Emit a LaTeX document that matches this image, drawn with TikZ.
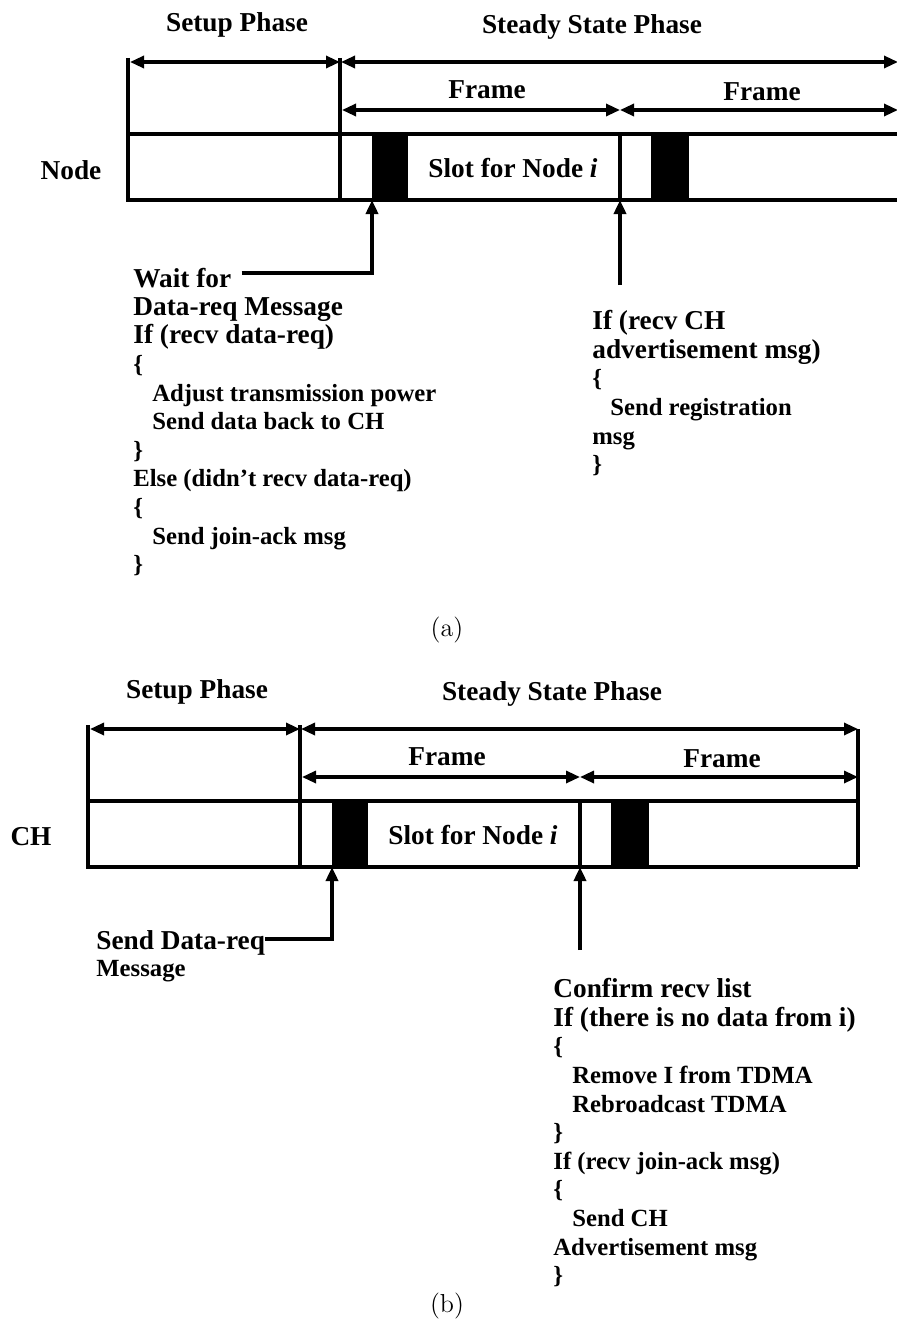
\documentclass[tikz,border=0pt]{standalone}
\usepackage{fontspec}
\newfontfamily\timesb{Liberation Serif}
\usetikzlibrary{arrows.meta}

\newcommand\txtL{\fontsize{13.65}{14.3}\selectfont}
\tikzset{
  lbl/.style={font=\timesb\bfseries\fontsize{13.65}{16}\selectfont},
  code/.style={align=left, inner sep=0pt, font=\timesb\bfseries\fontsize{12.35}{14.3}\selectfont},
  box/.style={line width=2.2pt},
  span/.style={{Triangle[length=7pt,width=6pt]}-{Triangle[length=7pt,width=6pt]}, line width=1.6pt},
  conn/.style={-{Triangle[length=7pt,width=6pt]}, line width=2pt},
}

\begin{document}
\begin{tikzpicture}[x=0.5pt,y=-0.5pt]
\useasboundingbox (0,0) rectangle (896,1343);
% the two time lines, (b) is (a) moved left and down
\foreach \p/\lab/\dx/\dy in {a/Node/0/0, b/CH/-40/667}{
\begin{scope}[shift={(\dx,\dy)}]
  \draw[box] (128,58) |- (898,200);
  \draw[box] (128,134) -- (898,134);
  \draw[box] (340,58) -- (340,200);
  \draw[line width=1.6pt] (620,134) -- (620,200);
  \fill (372,134) rectangle (408,200);
  \fill (651,134) rectangle (689,200);
  \draw[span] (130,62) -- (340,62);
  \draw[span] (341,62) -- (898,62);
  \draw[span] (342,110) -- (620,110);
  \draw[span] (620,110) -- (898,110);
  \node[lbl] (\p-setup) at (237,25) {Setup Phase};
  \node[lbl] (\p-steady) at (592,27) {Steady State Phase};
  \node[lbl] (\p-frame1) at (487,90) {Frame};
  \node[lbl] (\p-frame2) at (762,92) {Frame};
  \node[lbl] (\p-slot) at (513,168) {Slot for Node \textit{i}};
  \node[lbl] (\p-row) at (71,170) {\lab};
  \coordinate (\p-blk) at (372,200);
  \coordinate (\p-fdiv) at (620,200);
\end{scope}}
\draw[box] (858,729) -- (858,867); % right end of (b)

% (a) node side
\node[code, anchor=base west] (waitfor) at (133,287) {\txtL Wait for};
\node[code, anchor=north west] (nodeproc) at (133,297) {\txtL Data-req Message\\
  \txtL If (recv data-req)\\ \{\\
  \hspace{9.5pt}Adjust transmission power\\
  \hspace{9.5pt}Send data back to CH\\ \}\\
  Else (didn’t recv data-req)\\ \{\\
  \hspace{9.5pt}Send join-ack msg\\ \}};
\node[code, anchor=north west] (regproc) at (592,310) {\txtL If (recv CH\\
  \txtL advertisement msg)\\ \{\\
  \hspace{9pt}Send registration\\ msg\\ \}};
\coordinate (a-tail) at (620,285);
\draw[conn] ([xshift=5pt,yshift=2.5pt]waitfor.east) -| (a-blk);
\draw[conn] (a-tail) -- (a-fdiv);
\node (capa) at (447,630) {\fontsize{13}{15}\selectfont (a)};

% (b) CH side
\node[code, anchor=base west] (sendreq) at (96,949) {\txtL Send Data-req};
\node[code, anchor=base west] (sendmsg) at (96,976) {Message};
\draw[conn] ([yshift=1.5pt]sendreq.east) -| (b-blk);
\node[code, anchor=north west] (chproc) at (553,978) {\txtL Confirm recv list\\
  \txtL If (there is no data from i)\\ \{\\
  \hspace{9.5pt}Remove I from TDMA\\
  \hspace{9.5pt}Rebroadcast TDMA\\ \}\\
  If (recv join-ack msg)\\ \{\\
  \hspace{9.5pt}Send CH\\
  Advertisement msg\\ \}};
\coordinate (b-tail) at (580,950);
\draw[conn] (b-tail) -- (b-fdiv);
\node (capb) at (447,1306) {\fontsize{13}{15}\selectfont (b)};
\end{tikzpicture}
\end{document}
